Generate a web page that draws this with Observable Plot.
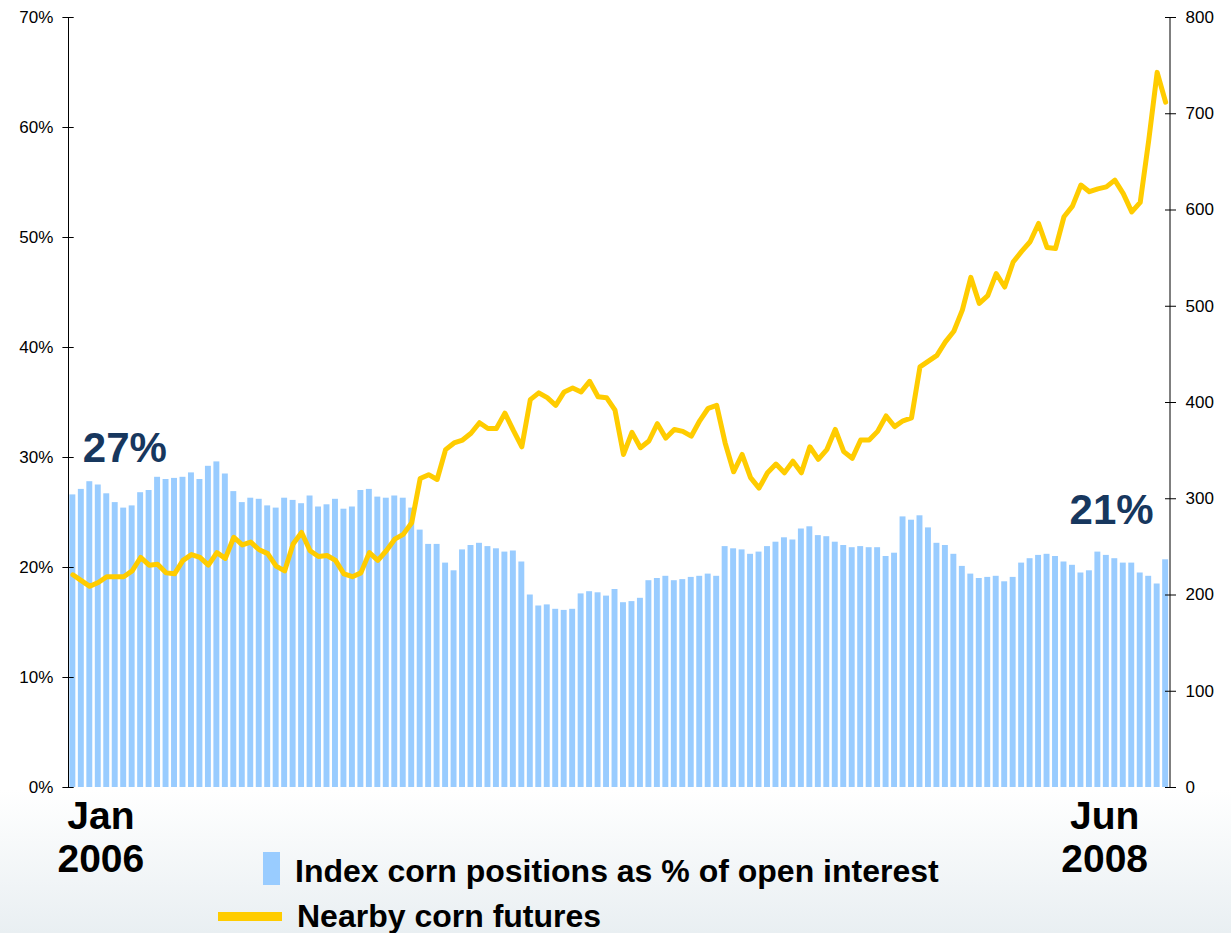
<!DOCTYPE html>
<html><head><meta charset="utf-8">
<script src="https://cdn.jsdelivr.net/npm/d3@7"></script>
<script src="https://cdn.jsdelivr.net/npm/@observablehq/plot@0.6"></script>
<style>
html,body{margin:0;padding:0;background:#fff;}
#wrap{position:relative;width:1231px;height:933px;overflow:hidden;background:linear-gradient(to bottom,#ffffff 0px,#ffffff 790px,#e9eff2 933px);font-family:"Liberation Sans",Arial,sans-serif;}
#wrap svg{position:absolute;left:0;top:0;}
.sw{position:absolute;}
.lgt{position:absolute;font-weight:bold;font-size:32px;line-height:32px;color:#000;white-space:nowrap;}
</style></head><body><div id="wrap"></div>
<script>
// Index corn positions as % of open interest (weekly, Jan 2006 - Jun 2008)
const pct = [26.6,27.1,27.8,27.5,26.7,25.9,25.4,25.6,26.8,27.0,28.2,28.0,28.1,28.2,28.6,28.0,29.2,29.6,28.5,26.9,
  25.9,26.3,26.2,25.6,25.4,26.3,26.1,25.8,26.5,25.5,25.7,26.2,25.3,25.5,27.0,27.1,26.4,26.3,26.5,26.3,
  25.4,23.4,22.1,22.1,20.4,19.7,21.6,22.0,22.2,21.9,21.7,21.4,21.5,20.5,17.5,16.5,16.6,16.2,16.1,16.2,
  17.6,17.8,17.7,17.4,18.0,16.8,16.9,17.2,18.8,19.0,19.2,18.8,18.9,19.1,19.2,19.4,19.2,21.9,21.7,21.6,
  21.2,21.4,21.9,22.3,22.7,22.5,23.5,23.7,22.9,22.8,22.3,22.0,21.8,21.9,21.8,21.8,21.0,21.3,24.6,24.3,
  24.7,23.6,22.2,22.0,21.2,20.1,19.4,19.0,19.1,19.2,18.7,19.1,20.4,20.8,21.1,21.2,21.0,20.5,20.2,19.5,
  19.7,21.4,21.1,20.8,20.4,20.4,19.5,19.2,18.5,20.7];
// Nearby corn futures (cents per bushel)
const price = [221,215,209,213,219,219,219,225,239,231,232,223,222,236,242,239,231,244,238,260,
  252,255,247,243,230,225,253,265,246,240,241,236,222,219,223,244,236,246,258,263,
  275,321,325,320,351,358,361,368,379,373,373,389,371,354,403,410,405,397,411,415,
  411,422,406,405,392,346,369,353,360,378,363,372,370,365,381,394,397,358,328,346,
  322,311,327,336,327,339,327,354,341,351,372,349,342,361,361,370,386,375,381,384,
  437,443,449,463,474,496,530,503,511,534,520,546,557,567,586,561,560,593,604,626,
  619,622,624,631,617,598,608,672,743,712];
// weekly report dates (Tuesdays) starting 3 Jan 2006
const fmt = d3.utcFormat("%Y-%m-%d");
const weeks = d3.range(pct.length).map(i => fmt(d3.utcDay.offset(new Date(Date.UTC(2006,0,3)), 7*i)));
const pctTicks = [0,10,20,30,40,50,60,70];
const priceTicks = [0,100,200,300,400,500,600,700,800];
const dateTickLabels = ["Jan\n2006", "Jun\n2008"];
const legendLabels = ["Index corn positions as % of open interest", "Nearby corn futures"];
const barColor = "#99ccff", lineColor = "#ffcc00", noteColor = "#17375e";

const data = weeks.map((w, i) => ({week: w, pct: pct[i], price: price[i]}));
const dateLabels = [{week: weeks[0], label: dateTickLabels[0]}, {week: weeks[weeks.length-1], label: dateTickLabels[1]}];

const font = '"Liberation Sans", Arial, sans-serif';
const common = {
  width: 1231, height: 933, marginTop: 17, marginBottom: 146, marginLeft: 68, marginRight: 61.5,
  style: {background: "transparent", fontFamily: font, color: "#000", overflow: "visible"},
  x: {type: "band", domain: weeks, paddingInner: 0.3, paddingOuter: 0.165, axis: null}
};

const plotA = Plot.plot({
  ...common,
  y: {domain: [0, 70], label: null},
  marks: [
    Plot.barY(data, {x: "week", y: "pct", fill: barColor}),
    Plot.ruleY([0], {x1: weeks[0], x2: weeks[125], insetLeft: -2, insetRight: -4, stroke: "#000", strokeWidth: 1.5}),
    Plot.frame({anchor: "left", stroke: "#000"}),
    Plot.axisY({ticks: pctTicks, tickFormat: d => d + "%", tickSize: 11.3, dx: 5.7, tickPadding: 9.5, fontSize: 17, label: null}),
    Plot.text([data[0]], {x: "week", y: "pct", text: d => Math.round(d.pct) + "%", textAnchor: "start", lineAnchor: "bottom", dx: 10, dy: -33, fontSize: 42, fontWeight: "bold", fill: noteColor}),
    Plot.text([data[data.length-1]], {x: "week", y: "pct", text: d => Math.round(d.pct) + "%", textAnchor: "end", lineAnchor: "bottom", dx: -12, dy: -36, fontSize: 42, fontWeight: "bold", fill: noteColor}),
    Plot.text(dateLabels, {x: "week", text: "label", frameAnchor: "bottom", lineAnchor: "top", dy: 11, fontSize: 39, fontWeight: "bold", lineHeight: 1.1, fill: "#000"})
  ]
});

const plotB = Plot.plot({
  ...common,
  y: {domain: [0, 800], label: null},
  marks: [
    Plot.line(data, {x: "week", y: "price", stroke: lineColor, strokeWidth: 5, strokeLinejoin: "round", strokeLinecap: "round"}),
    Plot.frame({anchor: "right", stroke: "#000"}),
    Plot.axisY({anchor: "right", ticks: priceTicks, tickSize: 11, dx: -5.5, tickPadding: 10, fontSize: 17, label: null})
  ]
});

const wrap = document.getElementById("wrap");
wrap.appendChild(plotA);
wrap.appendChild(plotB);

// shift date labels horizontally (Jan label right of first week, Jun label left of last week)
const dateTexts = plotA.querySelectorAll("g[aria-label='text']");
const dl = dateTexts[dateTexts.length - 1];
if (dl) {
  const ts = dl.querySelectorAll(":scope > text");
  if (ts[0]) ts[0].setAttribute("transform", (ts[0].getAttribute("transform") || "") + " translate(28,0)");
  if (ts[1]) ts[1].setAttribute("transform", (ts[1].getAttribute("transform") || "") + " translate(-61,0)");
}

// legend
function add(tag, cls, css, txt) {
  const e = document.createElement(tag); e.className = cls; Object.assign(e.style, css);
  if (txt) e.textContent = txt; wrap.appendChild(e); return e;
}
add("div", "sw", {left: "263px", top: "852px", width: "17px", height: "33px", background: barColor});
add("div", "lgt", {left: "295px", top: "854.6px"}, legendLabels[0]);
add("div", "sw", {left: "218px", top: "912px", width: "64px", height: "8.5px", background: lineColor});
add("div", "lgt", {left: "297px", top: "899.6px"}, legendLabels[1]);
</script>
</body></html>
